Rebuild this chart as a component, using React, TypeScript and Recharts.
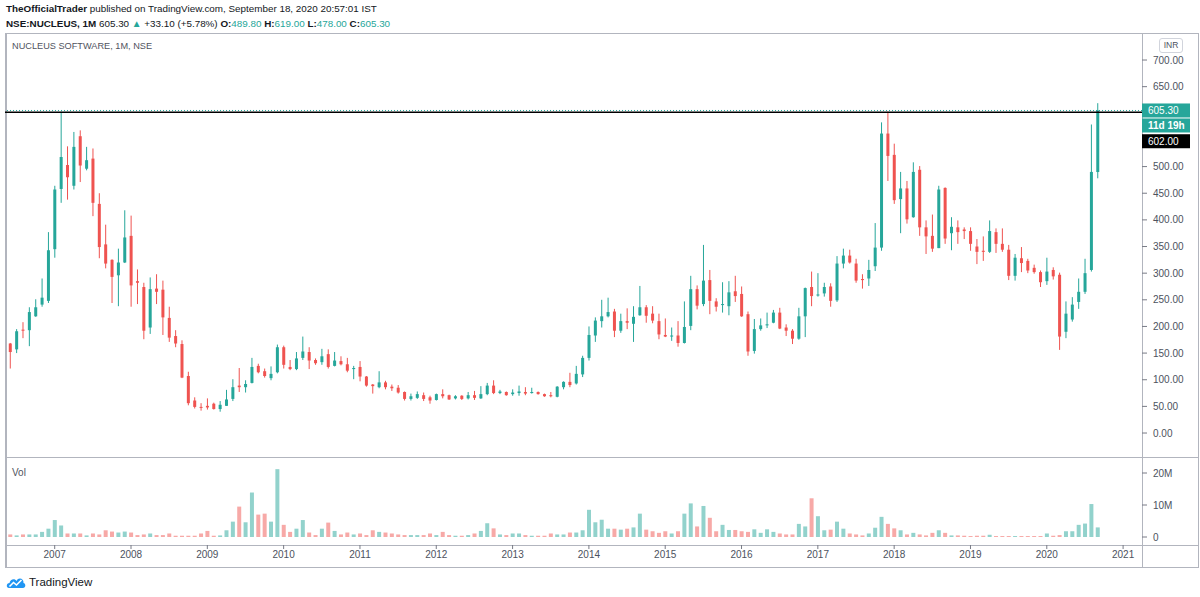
import React from "react";
import { ComposedChart, Bar, XAxis, YAxis, ReferenceLine, Cell } from "recharts";

// monthly candles, first one is Jun 2006
const startYear = 2006;
const startMonth = 6;
const emptyMonths = 6;

const open = [
  168, 157, 194, 193, 219, 241, 248, 345, 458, 503, 464, 557, 496, 515, 430, 354, 325, 296, 320, 370,
  285, 274, 198, 271, 269, 216, 182, 167, 107, 61, 49, 51, 55, 45, 51, 64, 89, 86, 94, 126,
  116, 103, 114, 161, 124, 120, 141, 152, 137, 133, 148, 126, 135, 129, 120, 124, 106, 91, 86, 95,
  87, 85, 77, 64, 66, 71, 67, 62, 73, 71, 65, 70, 65, 71, 65, 73, 89, 75, 77, 73,
  75, 77, 75, 77, 73, 71, 68, 86, 96, 93, 110, 141, 183, 210, 219, 228, 192, 210, 205, 221,
  236, 224, 210, 184, 181, 183, 169, 201, 270, 242, 287, 247, 241, 238, 266, 261, 223, 154, 195, 202,
  207, 226, 198, 192, 177, 219, 274, 258, 262, 275, 249, 318, 333, 318, 289, 290, 313, 348, 562, 522,
  439, 459, 405, 494, 386, 370, 347, 460, 375, 386, 382, 379, 350, 342, 340, 377, 355, 344, 295, 328,
  323, 310, 302, 285, 306, 297, 190, 213, 246, 265, 306, 489.8,
];
const high = [
  169, 195, 208, 236, 251, 290, 377, 464, 603, 538, 565, 568, 537, 534, 450, 391, 326, 346, 418, 408,
  307, 282, 292, 298, 286, 237, 193, 174, 115, 67, 56, 65, 57, 60, 81, 101, 122, 99, 141, 130,
  121, 125, 166, 164, 137, 152, 181, 161, 140, 158, 157, 152, 144, 141, 126, 135, 107, 92, 116, 98,
  91, 90, 78, 74, 78, 76, 70, 74, 82, 72, 71, 71, 77, 79, 88, 94, 99, 81, 78, 82,
  89, 86, 85, 78, 74, 77, 88, 97, 113, 126, 145, 200, 217, 250, 254, 233, 224, 234, 238, 276,
  240, 238, 224, 215, 198, 210, 247, 295, 277, 353, 306, 253, 283, 285, 295, 275, 228, 214, 215, 226,
  231, 235, 204, 195, 235, 273, 303, 300, 282, 281, 332, 346, 344, 327, 298, 325, 394, 583, 603, 543,
  490, 473, 508, 501, 399, 410, 464, 461, 405, 399, 386, 386, 364, 369, 399, 384, 384, 353, 336, 349,
  327, 316, 305, 329, 311, 301, 247, 255, 290, 327, 579, 619,
];
const low = [
  121, 150, 178, 163, 218, 237, 244, 329, 432, 438, 457, 471, 493, 407, 328, 309, 244, 238, 319, 237,
  242, 176, 186, 242, 184, 171, 161, 103, 52, 46, 42, 44, 44, 40, 51, 60, 77, 76, 93, 112,
  104, 99, 112, 121, 118, 118, 137, 120, 128, 128, 121, 125, 127, 114, 101, 97, 87, 74, 84, 82,
  79, 74, 61, 61, 64, 60, 55, 61, 65, 62, 63, 62, 63, 62, 64, 71, 73, 73, 70, 70,
  70, 71, 74, 72, 68, 67, 67, 82, 86, 91, 105, 136, 171, 198, 217, 180, 188, 195, 171, 220,
  207, 206, 176, 180, 173, 162, 168, 193, 232, 238, 223, 228, 226, 221, 246, 218, 145, 149, 192, 197,
  206, 195, 182, 167, 175, 180, 238, 256, 256, 237, 246, 309, 318, 282, 271, 276, 304, 342, 473, 430,
  375, 393, 404, 370, 336, 340, 347, 355, 343, 355, 364, 342, 317, 323, 338, 338, 340, 287, 286, 302,
  300, 299, 274, 278, 288, 156, 178, 209, 233, 261, 303, 478,
];
const close = [
  152, 191, 192, 227, 236, 254, 343, 457, 518, 480, 537, 502, 512, 432, 349, 318, 293, 320, 367, 277,
  282, 192, 270, 265, 217, 179, 168, 104, 56, 49, 48, 48, 45, 53, 63, 86, 86, 92, 124, 114,
  107, 111, 161, 128, 120, 140, 153, 136, 131, 144, 124, 136, 129, 117, 122, 106, 89, 88, 95, 86,
  84, 76, 64, 69, 73, 64, 61, 73, 69, 63, 69, 64, 71, 66, 73, 89, 75, 78, 71, 76,
  78, 74, 77, 73, 69, 69, 87, 96, 90, 111, 141, 184, 211, 219, 227, 192, 210, 207, 218, 236,
  220, 211, 185, 181, 183, 169, 199, 270, 239, 286, 248, 237, 242, 264, 257, 219, 153, 195, 202, 204,
  226, 196, 192, 177, 219, 272, 257, 260, 274, 248, 318, 333, 320, 286, 287, 306, 348, 562, 520, 437,
  459, 401, 490, 386, 369, 346, 457, 365, 387, 377, 379, 355, 340, 340, 379, 355, 344, 295, 329, 319,
  305, 302, 283, 303, 294, 181, 224, 241, 265, 300, 490, 605.3,
];
// volume in millions
const volume = [
  0.8, 0.5, 0.8, 0.8, 0.8, 1.6, 2.6, 5.3, 3.6, 1.1, 1.1, 1.1, 0.5, 1.1, 0.8, 2.1, 1.7, 1.4, 1.7, 1.4,
  0.6, 0.8, 1.1, 0.6, 0.6, 1.1, 0.4, 0.4, 0.4, 0.4, 1.1, 1.9, 0.4, 0.5, 2.1, 4.8, 9.5, 4.6, 13.9, 7.0,
  7.3, 4.8, 21.2, 3.8, 1.6, 2.6, 5.3, 1.4, 0.6, 2.6, 4.5, 1.9, 0.8, 1.4, 0.8, 1.1, 0.6, 2.1, 1.6, 1.4,
  1.1, 0.8, 0.6, 0.6, 0.6, 0.6, 1.1, 0.6, 1.6, 0.6, 0.4, 0.4, 0.6, 1.1, 1.9, 4.3, 2.7, 0.8, 0.6, 1.1,
  1.1, 0.6, 0.4, 0.4, 0.4, 1.1, 0.8, 0.8, 1.4, 1.4, 2.1, 8.5, 4.6, 5.4, 2.6, 2.6, 2.3, 2.6, 3.0, 7.3,
  2.3, 1.8, 1.3, 1.8, 1.1, 1.8, 7.3, 10.5, 3.3, 9.7, 6.0, 1.8, 3.8, 2.2, 2.2, 1.8, 1.6, 2.4, 1.3, 2.4,
  1.6, 1.1, 0.8, 0.8, 4.1, 3.3, 12.1, 6.5, 2.1, 2.3, 4.8, 2.6, 1.1, 0.8, 0.5, 1.1, 2.9, 6.3, 4.1, 2.7,
  2.1, 0.8, 1.3, 0.8, 0.5, 1.3, 2.1, 1.3, 0.5, 0.5, 0.4, 0.3, 0.4, 0.4, 0.7, 0.3, 0.3, 0.3, 0.3, 0.3,
  0.3, 0.3, 0.3, 1.1, 0.4, 0.6, 1.8, 1.8, 3.8, 4.2, 10.3, 3.0,
];

const yearTicks = [
  "2007-01", "2008-01", "2009-01", "2010-01", "2011-01", "2012-01", "2013-01", "2014-01",
  "2015-01", "2016-01", "2017-01", "2018-01", "2019-01", "2020-01", "2021-01",
];
// 550 and 600 are covered by the price tags, so they are not labelled
const priceTicks = [0, 50, 100, 150, 200, 250, 300, 350, 400, 450, 500, 650, 700];
const volumeTicks = [0, 10, 20];
const lastPrice = 605.3;
const levelPrice = 602;
const countdown = "11d 19h";

const UP = "#26a69a";
const DOWN = "#ef5350";
const UP_VOL = "#92d2cc";
const DOWN_VOL = "#f7a9a7";
const AXIS_TEXT = "#4c525e";
const BORDER = "#b2b5be";

const months: string[] = [];
for (let k = 0; k < open.length + emptyMonths; k++) {
  const m = startMonth - 1 + k;
  months.push(`${startYear + Math.floor(m / 12)}-${String((m % 12) + 1).padStart(2, "0")}`);
}

const rows = months.map((month, i) =>
  i < open.length
    ? { month, o: open[i], h: high[i], l: low[i], c: close[i], v: volume[i] }
    : { month }
);

function Candle(props: any) {
  const { x, y, width, height, payload } = props;
  if (!payload || payload.o == null || height == null) return null;
  const { o, h, l, c } = payload;
  const top = Math.min(y, y + height);
  const span = Math.abs(height);
  const k = h === l ? 0 : span / (h - l);
  const yOf = (v: number) => top + (h - v) * k;
  const color = c >= o ? UP : DOWN;
  const cx = x + width / 2;
  const bodyTop = yOf(Math.max(o, c));
  const bodyH = Math.max(1, Math.abs(yOf(o) - yOf(c)));
  return (
    <g>
      <line x1={cx} x2={cx} y1={top} y2={top + span} stroke={color} strokeWidth={1} />
      <rect x={x} y={bodyTop} width={width} height={bodyH} fill={color} />
    </g>
  );
}

function PriceTag(props: any) {
  const { viewBox, text, fill, shift = 0 } = props;
  if (!viewBox) return null;
  const x = viewBox.x + viewBox.width;
  const y = viewBox.y + shift;
  return (
    <g>
      <rect x={x} y={y - 7} width={48} height={14} fill={fill} />
      <text x={x + 6} y={y + 3.5} fill="#fff" fontSize={10} fontWeight={props.bold ? 700 : 400}>
        {text}
      </text>
    </g>
  );
}

function Logo() {
  return (
    <svg width={20} height={14} viewBox="0 0 20 14">
      <path d="M3 13 C0 13 0 8 3.5 8 C4 4 9 3 10.5 6 C12 2 18 3 17.5 8 C20 8.5 20 13 17 13 Z" fill="#2196f3" />
      <path d="M3.5 11.5 L7.5 7.5 L10.5 10 L15.5 5" stroke="#fff" strokeWidth={1.6} fill="none" />
    </svg>
  );
}

const line = (style: React.CSSProperties) => (
  <div style={{ position: "absolute", background: BORDER, ...style }} />
);

export default function App() {
  const teal = { color: UP };
  return (
    <div
      style={{
        position: "absolute",
        left: 0,
        top: 0,
        width: 1200,
        height: 597,
        background: "#fff",
        fontFamily: '"Liberation Sans", Arial, sans-serif',
        color: "#131722",
        overflow: "hidden",
      }}
    >
      <div style={{ position: "absolute", left: 6, top: 3, fontSize: 9.85, whiteSpace: "nowrap" }}>
        <b>TheOfficialTrader</b> published on TradingView.com, September 18, 2020 20:57:01 IST
      </div>
      <div style={{ position: "absolute", left: 6, top: 18, fontSize: 9.85, whiteSpace: "nowrap" }}>
        <b>NSE:NUCLEUS, 1M</b> 605.30 <span style={teal}>▲</span> +33.10 (+5.78%) <b>O:</b>
        <span style={teal}>489.80</span> <b>H:</b>
        <span style={teal}>619.00</span> <b>L:</b>
        <span style={teal}>478.00</span> <b>C:</b>
        <span style={teal}>605.30</span>
      </div>

      {line({ left: 5, top: 33, width: 1194, height: 1 })}
      {line({ left: 5, top: 33, width: 1.5, height: 535 })}
      {line({ left: 1198, top: 33, width: 1, height: 535 })}
      {line({ left: 5, top: 567, width: 1194, height: 1 })}
      {line({ left: 1142, top: 33, width: 1, height: 535 })}
      {line({ left: 5, top: 457, width: 1194, height: 1 })}
      {line({ left: 5, top: 545, width: 1194, height: 1 })}

      <div style={{ position: "absolute", left: 12, top: 41, fontSize: 9.2, color: "#50535e" }}>
        NUCLEUS SOFTWARE, 1M, NSE
      </div>
      <div style={{ position: "absolute", left: 12, top: 467, fontSize: 10, color: "#50535e" }}>Vol</div>
      <div
        style={{
          position: "absolute",
          left: 1159,
          top: 38,
          width: 22,
          height: 13,
          border: "1px solid #d1d4dc",
          borderRadius: 3,
          fontSize: 8.5,
          lineHeight: "13px",
          textAlign: "center",
          color: AXIS_TEXT,
        }}
      >
        INR
      </div>

      <div style={{ position: "absolute", left: 0, top: 33 }}>
        <ComposedChart
          width={1200}
          height={424}
          data={rows}
          margin={{ top: 0, right: 0, bottom: 0, left: 5 }}
          barCategoryGap="28%"
        >
          <XAxis dataKey="month" hide padding={{ left: 2, right: 3 }} />
          <YAxis
            orientation="right"
            width={58}
            domain={[-45, 750.7]}
            allowDataOverflow
            ticks={priceTicks}
            tickFormatter={(v: number) => v.toFixed(2)}
            axisLine={false}
            tickSize={5}
            tickMargin={6}
            tick={{ fontSize: 10, fill: AXIS_TEXT, textAnchor: "start" }}
            tickLine={{ stroke: "#787b86" }}
          />
          <Bar
            dataKey={(d: any) => (d.o == null ? null : [d.l, d.h])}
            shape={<Candle />}
            isAnimationActive={false}
          />
          <ReferenceLine
            y={lastPrice}
            stroke={UP}
            strokeDasharray="1 2"
            label={<PriceTag text="605.30" fill={UP} />}
          />
          <ReferenceLine
            y={lastPrice}
            stroke="none"
            label={<PriceTag text={countdown} fill={UP} shift={15} bold />}
          />
          <ReferenceLine
            y={levelPrice}
            stroke="#000"
            strokeWidth={1.5}
            label={<PriceTag text="602.00" fill="#000" shift={29} />}
          />
        </ComposedChart>
      </div>

      <div style={{ position: "absolute", left: 0, top: 457 }}>
        <ComposedChart
          width={1200}
          height={111}
          data={rows}
          margin={{ top: 0, right: 0, bottom: 0, left: 5 }}
          barCategoryGap="20%"
        >
          <XAxis
            dataKey="month"
            height={23}
            padding={{ left: 2, right: 3 }}
            ticks={yearTicks}
            interval={0}
            tickFormatter={(v: string) => v.slice(0, 4)}
            axisLine={false}
            tickSize={4}
            tickLine={{ stroke: "#787b86" }}
            tick={{ fontSize: 10, fill: AXIS_TEXT }}
          />
          <YAxis
            orientation="right"
            width={58}
            domain={[-2.5, 25]}
            allowDataOverflow
            ticks={volumeTicks}
            tickFormatter={(v: number) => (v === 0 ? "0" : `${v}M`)}
            axisLine={false}
            tickSize={5}
            tickMargin={6}
            tick={{ fontSize: 10, fill: AXIS_TEXT, textAnchor: "start" }}
            tickLine={{ stroke: "#787b86" }}
          />
          <Bar dataKey="v" isAnimationActive={false}>
            {rows.map((r: any) => (
              <Cell key={r.month} fill={r.o == null ? "none" : r.c >= r.o ? UP_VOL : DOWN_VOL} />
            ))}
          </Bar>
        </ComposedChart>
      </div>

      <div style={{ position: "absolute", left: 6, top: 575, display: "flex", alignItems: "center", gap: 3 }}>
        <Logo />
        <span style={{ fontSize: 11.5, color: "#131722" }}>TradingView</span>
      </div>
    </div>
  );
}
